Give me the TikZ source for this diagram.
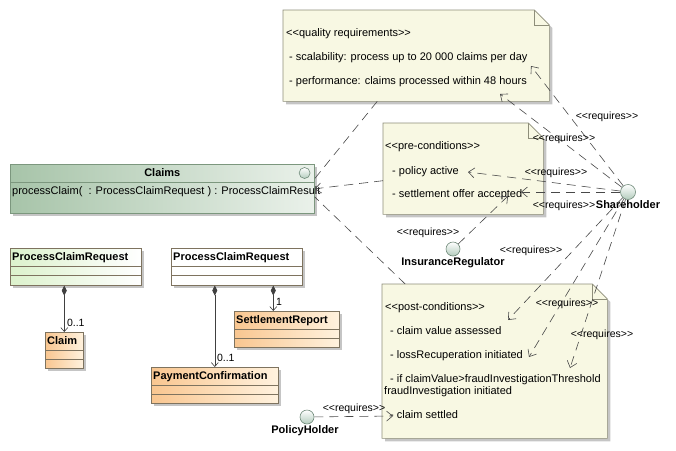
\documentclass[tikz,border=0pt]{standalone}
\usepackage{fontspec}
\setmainfont{Liberation Sans}[Ligatures=TeXOff]
\usepackage{tikz}
\usetikzlibrary{positioning}
\usetikzlibrary{arrows.meta}
\usetikzlibrary{shadows}

\definecolor{notefill}{HTML}{F8F8E3}
\definecolor{noteline}{HTML}{8E8E7A}
\definecolor{claimsdark}{HTML}{A7C4A9}
\definecolor{claimslight}{HTML}{EAF1EA}
\definecolor{claimsline}{HTML}{7C977E}
\definecolor{pcrgreen}{HTML}{DCF2CC}
\definecolor{boxorange}{HTML}{F9C690}
\definecolor{boxcream}{HTML}{FFF2DE}
\definecolor{boxline}{HTML}{7E735F}
\definecolor{depline}{HTML}{484848}
\definecolor{ifacedark}{HTML}{B3CCBD}
\definecolor{ifaceline}{HTML}{6F8A79}

\newcommand{\diagfont}{\fontsize{11}{13}\selectfont}
\newcommand{\smallfont}{\fontsize{10.5}{12}\selectfont}

\tikzstyle{notearea} = [rectangle, inner sep=0pt, anchor=north west]
\tikzstyle{notepaper} = [draw=noteline, fill=notefill, line width=0.6pt,
drop shadow={shadow xshift=3pt, shadow yshift=-3pt, fill=black!45, opacity=0.5}]
\tikzstyle{notetext} = [anchor=west, inner sep=0pt, text height=8pt, text depth=2.5pt]
\tikzstyle{classcore} = [rectangle, line width=0.6pt, inner sep=0pt, anchor=north west,
drop shadow={shadow xshift=3pt, shadow yshift=-3pt, fill=black!45, opacity=0.5}]
\tikzstyle{umlclass} = [classcore, draw=boxline, minimum height=36,
path picture={\draw[boxline, line width=0.6pt]
  ([yshift=-18pt]path picture bounding box.north west) -- ([yshift=-18pt]path picture bounding box.north east)
  ([yshift=-27pt]path picture bounding box.north west) -- ([yshift=-27pt]path picture bounding box.north east);}]
\tikzstyle{compbox} = [classcore, draw=claimsline, left color=claimsdark, right color=claimslight,
path picture={\draw[claimsline, line width=0.6pt]
  ([yshift=-18pt]path picture bounding box.north west) -- ([yshift=-18pt]path picture bounding box.north east);}]
\tikzstyle{orangebox} = [left color=boxorange, right color=boxcream]
\tikzstyle{classtitle} = [anchor=north west, inner xsep=2pt, inner ysep=4.5pt, font=\diagfont\bfseries,
text height=8pt, text depth=2.5pt]
\tikzstyle{iface} = [circle, draw=ifaceline, line width=0.6pt, top color=white, bottom color=ifacedark,
inner sep=0pt, minimum size=14]
\tikzstyle{actorname} = [font=\diagfont\bfseries, inner sep=1pt, text height=8pt, text depth=2.5pt]
\tikzstyle{depend} = [draw=depline, line width=0.6pt, dash pattern=on 9pt off 6pt, ->]
\tikzstyle{compose} = [draw=black!75, line width=0.6pt,
arrows={Diamond[length=10pt,width=5pt]-Straight Barb[length=4pt,width=7pt]}]
\tikzstyle{mult} = [inner sep=0.5pt, anchor=south west, font=\smallfont]
\tikzstyle{reqlabel} = [inner sep=0pt, font=\smallfont]

% note with folded corner round a named area
\newcommand{\dogear}[1]{%
  \filldraw[notepaper] (#1.north west) -- ([xshift=-15pt]#1.north east)
    -- ([yshift=-15pt]#1.north east) -- (#1.south east) -- (#1.south west) -- cycle;
  \draw[draw=noteline, line width=0.6pt] ([xshift=-15pt]#1.north east) |- ([yshift=-15pt]#1.north east);}

\begin{document}
\begin{tikzpicture}[x=1pt, y=-1pt, font=\diagfont, >={Straight Barb[length=6pt,width=10pt]}]
\useasboundingbox (0,0) rectangle (676,450);

% notes
\node[notearea, minimum width=266, minimum height=91] (quality) at (283,10) {};
\node[notearea, minimum width=160, minimum height=91] (pre) at (383,123) {};
\node[notearea, minimum width=225, minimum height=154] (post) at (382,284) {};
\dogear{quality}
\dogear{pre}
\dogear{post}

\node[notetext] (qualityhead) at (286,34) {<<quality requirements>>};
\node[notetext] (scal) at (289,58) {- scalability: process up to 20 000 claims per day};
\node[notetext] (perf) at (289,82) {- performance: claims processed within 48 hours};

\node[notetext] (prehead) at (385,147) {<<pre-conditions>>};
\node[notetext] (policy) at (392,172) {- policy active};
\node[notetext] (offer) at (392,195) {- settlement offer accepted};

\node[notetext] (posthead) at (385,308) {<<post-conditions>>};
\node[notetext] (value) at (390,332) {- claim value assessed};
\node[notetext] (loss) at (390,356) {- lossRecuperation initiated};
\node[notetext] (fraud) at (390,380) {- if claimValue>fraudInvestigationThreshold};
\node[notetext] (fraudb) at (384,392) {fraudInvestigation initiated};
\node[notetext] (settled) at (390,416) {- claim settled};

% classes
\node[compbox, minimum width=304, minimum height=49] (claims) at (10,164) {};
\node[classtitle, anchor=north] (claimstitle) at (claims.north) {Claims};
\node[iface, minimum size=11] (claimsicon) at ([shift={(-10,9)}]claims.north east) {};
\node[notetext] (claimsop) at (12,192) {processClaim(\ \ : ProcessClaimRequest ) : ProcessClaimResult};

\node[umlclass, minimum width=131, minimum height=37, left color=pcrgreen, right color=white] (pcrA) at (10,248) {};
\node[classtitle] (pcrAtitle) at (pcrA.north west) {ProcessClaimRequest};
\node[umlclass, minimum width=131, minimum height=37, fill=white] (pcrB) at (171,248) {};
\node[classtitle] (pcrBtitle) at (pcrB.north west) {ProcessClaimRequest};
\node[umlclass, orangebox, minimum width=38] (claim) at (45,332) {};
\node[classtitle] (claimtitle) at (claim.north west) {Claim};
\node[umlclass, orangebox, minimum width=105] (settle) at (234,311) {};
\node[classtitle] (settletitle) at (settle.north west) {SettlementReport};
\node[umlclass, orangebox, minimum width=127] (pay) at (151,367) {};
\node[classtitle] (paytitle) at (pay.north west) {PaymentConfirmation};

\draw[compose] (claim.north |- pcrA.south) -- (claim.north);
\node[mult] (claimmult) at ([shift={(2,-4.5)}]claim.north) {0..1};
\coordinate (settletop) at ([xshift=-13.5pt]settle.north);
\draw[compose] (settletop |- pcrB.south) -- (settletop);
\node[mult] (settlemult) at ([shift={(2,-5)}]settletop) {1};
\draw[compose] (pay.north |- pcrB.south) -- (pay.north);
\node[mult] (paymult) at ([shift={(1.5,-5)}]pay.north) {0..1};

% actors
\node[iface, minimum size=15] (share) at (628,192) {};
\node[actorname, below=-1pt of share] (sharename) {Shareholder};
\node[iface] (reg) at (453,249) {};
\node[actorname, below=0pt of reg] (regname) {InsuranceRegulator};
\node[iface] (holder) at (307,417) {};
\node[actorname, below=0pt of holder, xshift=-2pt] (holdername) {PolicyHolder};

% anchors of the notes on Claims
\draw[depend, -] ([xshift=-39pt]quality.south) -- ([yshift=10pt]claims.east);
\draw[depend] ([yshift=-12pt]pre.west) -- (claims.east);
\draw[depend, -] ([xshift=-89.5pt]post.north) -- ([yshift=-8pt]claims.east);

% requires
\coordinate (scaltip) at (531,66);
\coordinate (perftip) at (500,94);
\coordinate (policytip) at (468,172);
\coordinate (offertip) at (521,192);
\coordinate (regtip) at (508,196);
\coordinate (valuetip) at (508,320);
\coordinate (losstip) at (529,357);
\coordinate (fraudtip) at (570,368);
\coordinate (settledtip) at (393,416);

\draw[depend] (share) -- (scaltip);
\draw[depend] (share) -- (perftip);
\draw[depend] (share) -- (policytip);
\draw[depend] (share) -- (offertip);
\draw[depend] (reg) -- (regtip);
\draw[depend] (share) -- (valuetip);
\draw[depend] (share) -- (losstip);
\draw[depend] (share) -- (fraudtip);
\draw[depend] (holder) -- (settledtip);

\node[reqlabel] (reqA) at (607,117) {<<requires>>};
\node[reqlabel] (reqB) at (564,139) {<<requires>>};
\node[reqlabel] (reqC) at (556,173) {<<requires>>};
\node[reqlabel] (reqD) at (564,206) {<<requires>>};
\node[reqlabel] (reqE) at (428,233) {<<requires>>};
\node[reqlabel] (reqF) at (531,251) {<<requires>>};
\node[reqlabel] (reqG) at (567,304) {<<requires>>};
\node[reqlabel] (reqH) at (602,335) {<<requires>>};
\node[reqlabel] (reqI) at (354,409) {<<requires>>};
\end{tikzpicture}
\end{document}
